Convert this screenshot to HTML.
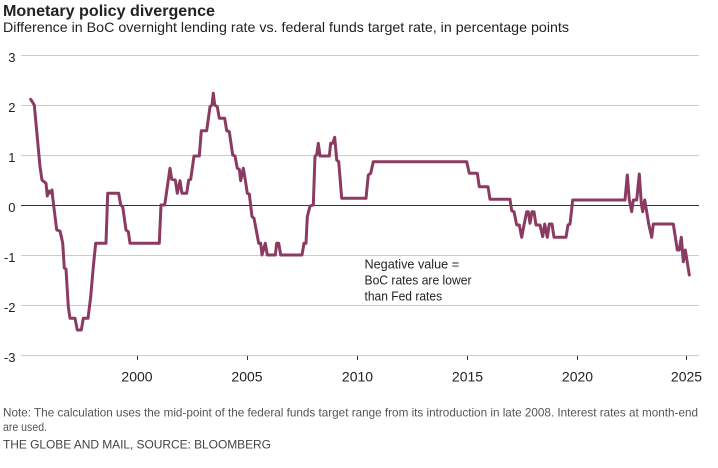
<!DOCTYPE html>
<html><head><meta charset="utf-8"><style>
html,body{margin:0;padding:0;background:#fff;}
svg{display:block;font-family:"Liberation Sans",Arial,sans-serif;}
</style></head><body>
<svg width="718" height="468" viewBox="0 0 718 468" xmlns="http://www.w3.org/2000/svg">
<rect width="718" height="468" fill="#fff"/>
<text x="3" y="16" font-size="16" font-weight="bold" fill="#222" textLength="212" lengthAdjust="spacingAndGlyphs">Monetary policy divergence</text>
<text x="3" y="32" font-size="14" fill="#222" textLength="566" lengthAdjust="spacingAndGlyphs">Difference in BoC overnight lending rate vs. federal funds target rate, in percentage points</text>
<g stroke="#cccccc" stroke-width="1">
<line x1="21" y1="55.5" x2="699" y2="55.5"/>
<line x1="21" y1="105.5" x2="699" y2="105.5"/>
<line x1="21" y1="155.5" x2="699" y2="155.5"/>
<line x1="21" y1="255.5" x2="699" y2="255.5"/>
<line x1="21" y1="305.5" x2="699" y2="305.5"/>
<line x1="21" y1="355.5" x2="699" y2="355.5"/>
</g>
<line x1="21" y1="205.5" x2="699" y2="205.5" stroke="#333" stroke-width="1"/>
<g stroke="#333" stroke-width="1">
<line x1="137.5" y1="356" x2="137.5" y2="360"/>
<line x1="247.5" y1="356" x2="247.5" y2="360"/>
<line x1="357.5" y1="356" x2="357.5" y2="360"/>
<line x1="467.5" y1="356" x2="467.5" y2="360"/>
<line x1="577.5" y1="356" x2="577.5" y2="360"/>
<line x1="686.5" y1="356" x2="686.5" y2="360"/>
</g>
<g font-size="13" fill="#222" text-anchor="end">
<text x="15.5" y="62">3</text>
<text x="15.5" y="112">2</text>
<text x="15.5" y="162">1</text>
<text x="15.5" y="212">0</text>
<text x="15.5" y="262">-1</text>
<text x="15.5" y="312">-2</text>
<text x="15.5" y="362">-3</text>
</g>
<g font-size="14" fill="#222" text-anchor="middle">
<text x="137" y="381.5">2000</text>
<text x="247" y="381.5">2005</text>
<text x="357.5" y="381.5">2010</text>
<text x="467.5" y="381.5">2015</text>
<text x="577.5" y="381.5">2020</text>
<text x="686.5" y="381.5">2025</text>
</g>
<g font-size="13" fill="#222">
<text x="364.5" y="268.3" textLength="94.6" lengthAdjust="spacingAndGlyphs">Negative value =</text>
<text x="364.5" y="284.5" textLength="107" lengthAdjust="spacingAndGlyphs">BoC rates are lower</text>
<text x="364.5" y="300.7" textLength="77.6" lengthAdjust="spacingAndGlyphs">than Fed rates</text>
</g>
<polyline fill="none" stroke="#8b3b62" stroke-width="3" stroke-linejoin="round" stroke-linecap="round" points="
30.7,99.3 34.3,105 40,166.7 42,180 46,183.3 47.3,196 48.7,191 50,193 52,190 53,200
56.7,230 60,231 62.7,243 64.3,268 66,269 68.3,306.7 70,318.3 75,318.3 77.3,330 81.3,330
83.3,318.3 88,318.3 90.7,296.7 93.3,266.7 95.7,243.3 106,243.3 107.7,193.3 118.7,193.3
120.7,205 122.7,206.7 126,230 128.3,231.7 130,243.3 159.3,243.3 161,205 164.7,205
170,168.3 171.7,179.3 175.3,180 177.3,193.3 180,180.7 182,193.3 186.7,193.3 188.7,180
190.7,179.3 194,156 199.3,156 201.3,130.7 206.7,130.7 210,106.7 212,105 213.3,93.3
214.7,105 217.3,106.7 219.3,118.3 224.7,118.3 226.7,130.7 229.3,131.7 232.7,155 235,156
237.3,168.3 239.3,169.3 240.7,180.7 243.3,168.3 245.3,180 247.3,193.3 249.3,194 252,216.7
254,218.3 258.7,243.3 260.7,243.3 262,255 265.3,243.3 267.3,255 275.3,255 276.7,243.3
278.7,243.3 280.7,255 302,255 304,243.3 306,243.3 307.3,216.7 310,206 313.3,205 315,156
316.7,155 318.3,143.3 320,156 329.3,156 330.7,143.3 332.7,143.3 334.7,137.3 336.7,160
338.7,161.7 341.7,198.3 366,198.3 368.3,175 370.7,173.3 373.3,161.7 466.7,161.7
469.3,173.3 477.3,173.3 479.3,186.7 488,186.7 490,199.3 510,199.3 511.7,210.7 514,211.7
516.7,225 519.3,225 521.7,237.3 524,225 526.7,211.7 528.3,211.7 530,223.3 532,211.7
534,211.7 536,225 540,225 542.7,236.7 544.7,224 547.3,237.3 549.3,224 552,224 554,237.3
566,237.3 568,225 570,224 572.7,200 625,200 627.3,175 629.3,200 631.7,211.7 633.3,200
636.7,200 639.3,174 641.3,203.3 642.7,211.7 644.7,200 646.7,211.7 648.7,224 651.7,237.3
653.3,224 673.3,224 677.3,250 679.3,250 681.3,237.3 683.3,261.7 685.3,250 689.3,275"/>
<g font-size="12" fill="#555">
<text x="3" y="416.5" textLength="695" lengthAdjust="spacingAndGlyphs">Note: The calculation uses the mid-point of the federal funds target range from its introduction in late 2008. Interest rates at month-end</text>
<text x="3" y="431" textLength="44" lengthAdjust="spacingAndGlyphs">are used.</text>
</g>
<text x="3" y="448.3" font-size="12" fill="#444" textLength="269" lengthAdjust="spacing" letter-spacing="1">THE GLOBE AND MAIL, SOURCE: BLOOMBERG</text>
</svg>
</body></html>
